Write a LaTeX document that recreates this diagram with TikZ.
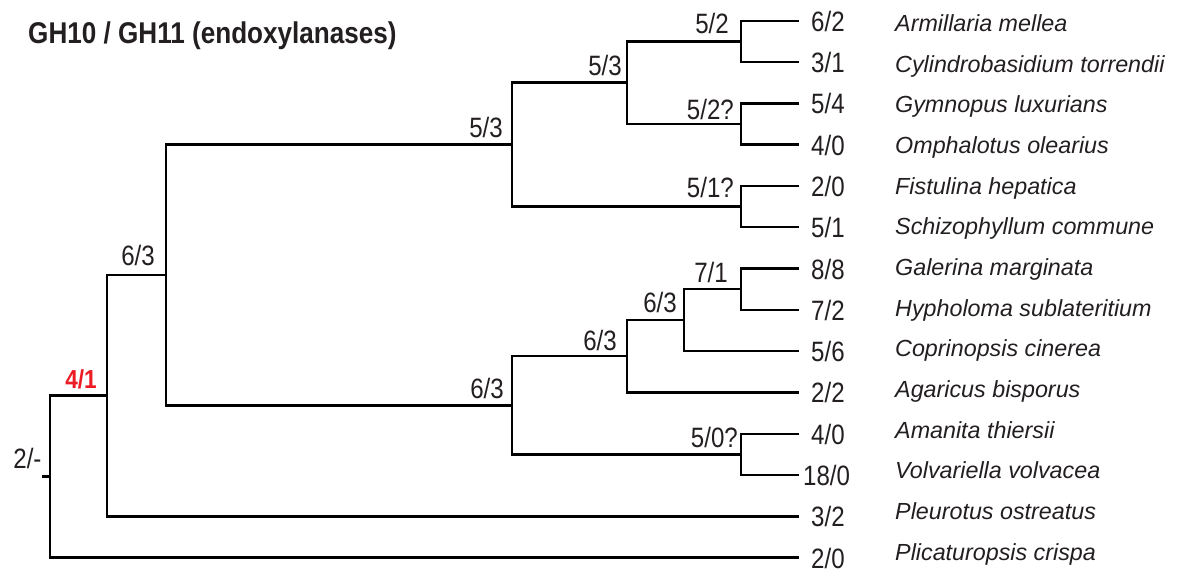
\documentclass[tikz,border=0pt]{standalone}
\usepackage{fontspec}
\setmainfont{Liberation Sans}
\newfontfamily\numfont[FakeStretch=0.86]{Liberation Sans}
\newfontfamily\ttlfont[FakeStretch=0.87]{Liberation Sans}
\usetikzlibrary{calc}
\definecolor{ink}{RGB}{35,31,32}
\definecolor{redlab}{RGB}{237,28,36}
\tikzset{
  branch/.style={line width=2.4pt, draw=black, line join=miter},
  numlab/.style={inner sep=0pt, text=ink, font=\numfont\fontsize{28}{32}\selectfont},
  intlab/.style={numlab, anchor=base east},
  leaflab/.style={numlab, anchor=base west},
  species/.style={inner sep=0pt, text=ink, anchor=base west, font=\fontsize{23.3}{28}\selectfont\itshape},
  title/.style={inner sep=0pt, text=ink, anchor=base west, font=\ttlfont\bfseries\fontsize{30}{34}\selectfont},
  rootlab/.style={inner sep=0pt, text=redlab, anchor=base east, font=\ttlfont\bfseries\fontsize{26}{30}\selectfont}
}
\begin{document}
\begin{tikzpicture}[x=1pt,y=-1pt]
\useasboundingbox (0,0) rectangle (1182,573);
\fill[white] (0,0) rectangle (1182,573);

% leaves
\coordinate (L1) at (799,20.7);
\coordinate (L2) at (799,62.0);
\coordinate (L3) at (799,103.3);
\coordinate (L4) at (799,144.6);
\coordinate (L5) at (799,185.9);
\coordinate (L6) at (799,227.2);
\coordinate (L7) at (799,268.5);
\coordinate (L8) at (799,309.8);
\coordinate (L9) at (799,351.1);
\coordinate (L10) at (799,392.4);
\coordinate (L11) at (799,433.7);
\coordinate (L12) at (799,475.0);
\coordinate (L13) at (799,516.3);
\coordinate (L14) at (799,557.6);

% internal nodes
\coordinate (F) at (741,41.35);
\coordinate (G) at (741,123.95);
\coordinate (E) at (741,206.55);
\coordinate (D) at (627,82.65);
\coordinate (C) at (512,144.6);
\coordinate (M) at (741,289.15);
\coordinate (K) at (684,320.1);
\coordinate (I) at (627,356.25);
\coordinate (J) at (741,454.35);
\coordinate (H) at (512,405.3);
\coordinate (B) at (166,274.95);
\coordinate (A) at (107,395.6);
\coordinate (R) at (50,476.6);
\coordinate (Rt) at (42,476.6);

% branches
\draw[branch] (L1) -| (F) |- (L2);
\draw[branch] (L3) -| (G) |- (L4);
\draw[branch] (L5) -| (E) |- (L6);
\draw[branch] (F) -| (D) |- (G);
\draw[branch] (D) -| (C) |- (E);
\draw[branch] (L7) -| (M) |- (L8);
\draw[branch] (M) -| (K) |- (L9);
\draw[branch] (K) -| (I) |- (L10);
\draw[branch] (L11) -| (J) |- (L12);
\draw[branch] (I) -| (H) |- (J);
\draw[branch] (C) -| (B) |- (H);
\draw[branch] (B) -| (A) |- (L13);
\draw[branch] (A) -| (R) |- (L14);
\draw[branch] (Rt) -- (R);

% title
\node[title] (ttl) at (28,43.3) {GH10 / GH11 (endoxylanases)};

% internal labels
\node[intlab] (lB) at (155,265) {6/3};
\node[intlab] (lC) at (503,137) {5/3};
\node[intlab] (lH) at (504,398) {6/3};
\node[intlab] (lD) at (622,75) {5/3};
\node[intlab] (lF) at (729,33) {5/2};
\node[intlab] (lG) at (734,119) {5/2?};
\node[intlab] (lE) at (734,197) {5/1?};
\node[intlab] (lM) at (728,282) {7/1};
\node[intlab] (lK) at (677,312) {6/3};
\node[intlab] (lI) at (617,350) {6/3};
\node[intlab] (lJ) at (738,447) {5/0?};
\node[rootlab] (lA) at (97,388) {4/1};
\node[intlab] (lR) at (41.7,468.3) {2/-};

% leaf counts
\node[leaflab] (c1) at (811,31.2) {6/2};
\node[leaflab] (c2) at (811,72.5) {3/1};
\node[leaflab] (c3) at (811,113.8) {5/4};
\node[leaflab] (c4) at (811,155.1) {4/0};
\node[leaflab] (c5) at (811,196.4) {2/0};
\node[leaflab] (c6) at (811,237.7) {5/1};
\node[leaflab] (c7) at (811,279.0) {8/8};
\node[leaflab] (c8) at (811,320.3) {7/2};
\node[leaflab] (c9) at (811,361.6) {5/6};
\node[leaflab] (c10) at (811,402.9) {2/2};
\node[leaflab] (c11) at (811,444.2) {4/0};
\node[leaflab] (c12) at (803,485.5) {18/0};
\node[leaflab] (c13) at (811,526.8) {3/2};
\node[leaflab] (c14) at (811,568.1) {2/0};

% species
\node[species] (s1) at (895,31.6) {Armillaria mellea};
\node[species] (s2) at (895,72.3) {Cylindrobasidium torrendii};
\node[species] (s3) at (895,112.9) {Gymnopus luxurians};
\node[species] (s4) at (895,153.6) {Omphalotus olearius};
\node[species] (s5) at (895,194.2) {Fistulina hepatica};
\node[species] (s6) at (895,234.9) {Schizophyllum commune};
\node[species] (s7) at (895,275.5) {Galerina marginata};
\node[species] (s8) at (895,316.2) {Hypholoma sublateritium};
\node[species] (s9) at (895,356.8) {Coprinopsis cinerea};
\node[species] (s10) at (895,397.5) {Agaricus bisporus};
\node[species] (s11) at (895,438.1) {Amanita thiersii};
\node[species] (s12) at (895,478.8) {Volvariella volvacea};
\node[species] (s13) at (895,519.4) {Pleurotus ostreatus};
\node[species] (s14) at (895,560.1) {Plicaturopsis crispa};
\end{tikzpicture}
\end{document}
